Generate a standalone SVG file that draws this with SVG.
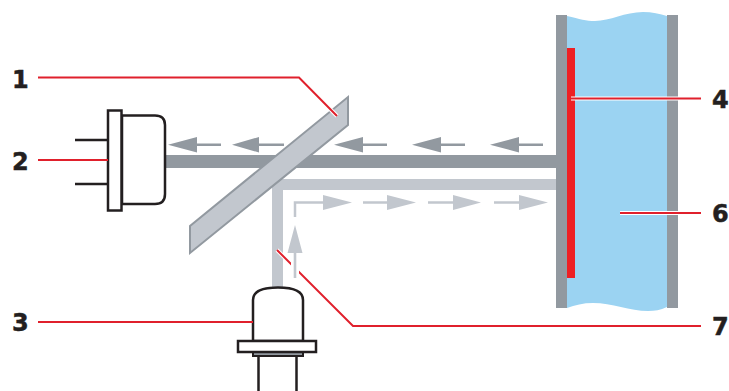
<svg xmlns="http://www.w3.org/2000/svg" width="729" height="391" viewBox="0 0 729 391">
<style>
.lbl{font-family:"DejaVu Sans",sans-serif;font-weight:700;font-size:24px;fill:#231f20;stroke:#231f20;stroke-width:.5}
.ol{fill:#fff;stroke:#231f20;stroke-width:2.5}
.lead{fill:none;stroke:#231f20;stroke-width:2.5}
.red{fill:none;stroke:#e0202c;stroke-width:2}
.halo{fill:none;stroke:#fff;stroke-width:4}
.dk{fill:#9299a0}
.lt{fill:#c2c7ce}
.dkl{stroke:#9299a0;stroke-width:2.5;fill:none}
.ltl{stroke:#c2c7ce;stroke-width:2.5;fill:none}
</style>
<rect width="729" height="391" fill="#fff"/>
<g id="cell">
<path d="M567 16C580 19 586 21 595 21C610 21 625 12 643 12C652 12 660 14 667 16V307C660 310 655 311 648 311C630 311 612 303 593 303C583 303 575 305 567 308Z" fill="#9bd3f2"/>
<rect x="556" y="15" width="11" height="293" fill="#9299a0"/>
<rect x="667" y="15" width="11" height="293" fill="#9299a0"/>
<rect id="electrode" x="567" y="48" width="8" height="230" fill="#ee2024"/>
</g>
<g id="beams">
<rect x="164" y="155" width="392" height="13" class="dk"/>
<path d="M272 287V179H556V190H283V287Z" class="lt"/>
</g>
<g id="arrows">
<path d="M168 144.700L197 137V143.500H221V146H197V152.500Z" class="dk"/>
<path d="M232 144.700L259 137V143.500H284V146H259V152.500Z" class="dk"/>
<path d="M334 144.700L363 137V143.500H387V146H363V152.500Z" class="dk"/>
<path d="M412 144.700L441 137V143.500H465V146H441V152.500Z" class="dk"/>
<path d="M490 144.700L519 137V143.500H543V146H519V152.500Z" class="dk"/>
<path d="M295 217V202.500H323" class="ltl"/>
<path d="M323 195L352 202.500L323 210Z" class="lt"/>
<path d="M363 202.500H387" class="ltl"/><path d="M387 195L416 202.500L387 210Z" class="lt"/>
<path d="M428 202.500H453" class="ltl"/><path d="M453 195L481 202.500L453 210Z" class="lt"/>
<path d="M494 202.500H519" class="ltl"/><path d="M519 195L548 202.500L519 210Z" class="lt"/>
</g>
<g id="mirror">
<path d="M348 97V125L190 253V226Z" fill="#c2c7ce" stroke="#9299a0" stroke-width="2"/>
</g>
<g id="detector">
<path d="M75 140H108M75 184H108" class="lead"/>
<path d="M122 115.500H155Q165 115.500 165 125V194Q165 204 155 204H122Z" class="ol"/>
<rect x="108" y="110.500" width="13.500" height="100" class="ol"/>
</g>
<g id="emitter">
<path d="M258.500 356V391M296.500 356V391" class="lead"/>
<path d="M253 341V300C253 291 264 287.500 278 287.500C292 287.500 303 291 303 300V341Z" class="ol"/>
<rect x="253" y="352" width="50" height="4" fill="#9299a0" stroke="#231f20" stroke-width="2"/>
<rect x="238" y="341" width="78" height="11" class="ol"/>
</g>
<g id="connectors">
<path d="M330 109L337 116" stroke="#fff" stroke-width="4" fill="none"/>
<path d="M38 77.500H299L337 116" class="red"/>
<path d="M38 160H108" class="red"/>
<path d="M38 322H253" class="red"/>
<path d="M571 98.500H701" class="halo"/><path d="M571 98.500H701" class="red"/>
<path d="M620 213H701" class="halo"/><path d="M620 213H701" class="red"/>
<path d="M277 250L285 258" stroke="#fff" stroke-width="4" fill="none"/>
<path d="M277 250L353 326H701" class="red"/>
<path d="M295 255V278" stroke="#fff" stroke-width="8" fill="none"/>
<path d="M295 225L302.500 253H296.300V278H293.700V253H287.500Z" class="lt"/>
</g>
<g id="labels">
<text class="lbl" x="12" y="88">1</text>
<text class="lbl" x="12" y="170">2</text>
<text class="lbl" x="12" y="331">3</text>
<text class="lbl" x="712" y="108">4</text>
<text class="lbl" x="712" y="222">6</text>
<text class="lbl" x="712" y="335">7</text>
</g>
</svg>
